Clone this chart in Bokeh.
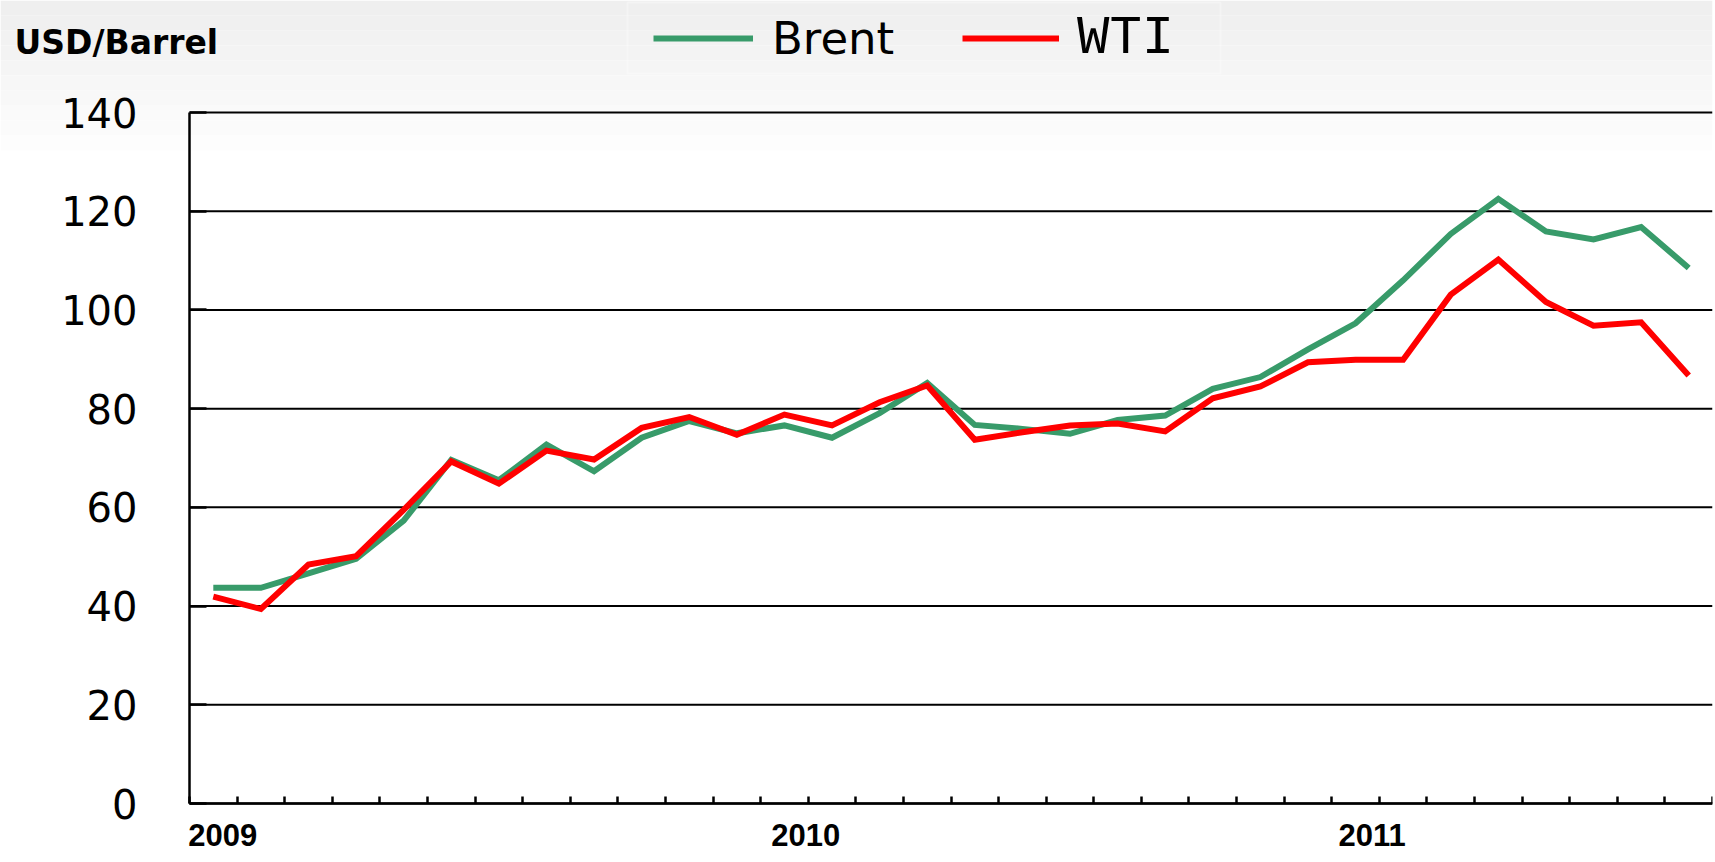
from bokeh.plotting import figure
from bokeh.models import (Range1d, FixedTicker, Legend, LegendItem, Label,
                          ColumnDataSource, LinearAxis, BoxAnnotation)
from bokeh.embed import file_html
from bokeh.resources import INLINE

months = ["2009-01", "2009-02", "2009-03", "2009-04", "2009-05", "2009-06",
          "2009-07", "2009-08", "2009-09", "2009-10", "2009-11", "2009-12",
          "2010-01", "2010-02", "2010-03", "2010-04", "2010-05", "2010-06",
          "2010-07", "2010-08", "2010-09", "2010-10", "2010-11", "2010-12",
          "2011-01", "2011-02", "2011-03", "2011-04", "2011-05", "2011-06",
          "2011-07", "2011-08"]
brent = [43.7, 43.7, 46.6, 49.6, 57.3, 69.6, 65.5, 72.7, 67.3, 74.1, 77.5, 75.0,
         76.6, 74.1, 79.1, 85.2, 76.7, 75.9, 74.9, 77.7, 78.6, 84.0, 86.4, 92.0,
         97.3, 106.0, 115.4, 122.5, 115.9, 114.3, 116.8, 108.5]
wti = [41.9, 39.4, 48.4, 50.1, 59.5, 69.3, 64.8, 71.5, 69.7, 76.1, 78.3, 74.7,
       78.8, 76.6, 81.3, 84.7, 73.7, 75.2, 76.6, 77.0, 75.4, 82.1, 84.5, 89.4,
       89.9, 89.9, 103.1, 110.2, 101.6, 96.8, 97.5, 86.7]
y_ticks = [0, 20, 40, 60, 80, 100, 120, 140]
year_labels = ["2009", "2010", "2011"]
year_pos = [0.2, 12.45, 24.35]
series_names = ["Brent", "WTI"]
colors = ["#389b6a", "#ff0000"]
y_label = "USD/Barrel"

# ---- layout (pixels in the page) ----
W, H = 1713, 860
PLOT_L, PLOT_R = 189, 1712      # x pixels of the category axis extent
PLOT_T, PLOT_B = 112, 803       # y pixels of 140 and 0

n = len(months)
x = list(range(n))
y_max = y_ticks[-1]
xs = (PLOT_R - PLOT_L) / n                 # px per category
ys = (PLOT_B - PLOT_T) / y_max             # px per unit
x_start = -0.5 - PLOT_L / xs
x_end = (n - 0.5) + (W - 1 - PLOT_R) / xs
y_end = y_max + PLOT_T / ys
y_start = -(H - PLOT_B) / ys


def px_x(px):
    return x_start + px / xs


def px_y(py):
    return y_end - py / ys


src = ColumnDataSource(dict(x=x, month=months, brent=brent, wti=wti))

p = figure(width=W, height=H,
           x_range=Range1d(x_start, x_end), y_range=Range1d(y_start, y_end),
           x_axis_location=None, y_axis_location=None,
           output_backend="svg", toolbar_location=None,
           min_border_left=0, min_border_right=1, min_border_top=0, min_border_bottom=0)
p.background_fill_color = "white"
p.border_fill_color = "white"
p.outline_line_color = None
p.grid.visible = False

# light grey slide gradient at the top
bands = 10
band_h = 15
for k in range(bands):
    g = int(239 + (255 - 239) * k / bands)
    p.add_layout(BoxAnnotation(top=px_y(k * band_h), bottom=px_y((k + 1) * band_h),
                               fill_color="#%02x%02x%02x" % (g, g, g), fill_alpha=1,
                               line_color=None, level="underlay"))

# horizontal gridlines over the category extent
p.segment(x0=[-0.5] * len(y_ticks), x1=[n - 0.5] * len(y_ticks), y0=y_ticks, y1=y_ticks,
          line_color="black", line_width=2)

ya = LinearAxis(fixed_location=-0.5)
ya.ticker = FixedTicker(ticks=y_ticks)
ya.bounds = (0, y_max)
ya.axis_line_color = "black"
ya.axis_line_width = 2.5
ya.major_tick_in = 17
ya.major_tick_out = 0
ya.major_tick_line_width = 2.5
ya.major_tick_line_color = "black"
ya.minor_tick_line_color = None
ya.major_label_text_font = "DejaVu Sans"
ya.major_label_text_font_size = "40px"
ya.major_label_text_color = "black"
ya.major_label_standoff = 52
p.add_layout(ya, "left")

xa = LinearAxis(fixed_location=0)
xa.ticker = FixedTicker(ticks=year_pos, minor_ticks=[i - 0.5 for i in range(n + 1)])
xa.bounds = (-0.5, n - 0.5)
xa.axis_line_color = "black"
xa.axis_line_width = 2.5
xa.major_tick_line_color = None
xa.major_tick_in = 0
xa.major_tick_out = 0
xa.minor_tick_in = 7
xa.minor_tick_out = 0
xa.minor_tick_line_width = 2.5
xa.minor_tick_line_color = "black"
xa.major_label_overrides = {pos: lab for pos, lab in zip(year_pos, year_labels)}
xa.major_label_text_font = "Liberation Sans"
xa.major_label_text_font_style = "bold"
xa.major_label_text_font_size = "31px"
xa.major_label_text_color = "black"
xa.major_label_standoff = 20
p.add_layout(xa, "below")

r_b = p.line("x", "brent", source=src, line_color=colors[0], line_width=6, line_join="miter")
r_w = p.line("x", "wti", source=src, line_color=colors[1], line_width=6, line_join="miter")

# legend frame (thin white box)
p.add_layout(BoxAnnotation(left=px_x(627), right=px_x(1220), top=px_y(2), bottom=px_y(73),
                           fill_alpha=0, line_color="white", line_width=2))

LEG_CY = 38   # legend row centre (px from top)
LEG_H = 64
common = dict(padding=0, margin=0, spacing=0, border_line_color=None,
              background_fill_alpha=0, glyph_height=LEG_H, label_height=LEG_H,
              label_text_color="black")
leg1 = Legend(items=[LegendItem(label=series_names[0], renderers=[r_b])],
              location=(653, H - (LEG_CY + LEG_H / 2)), glyph_width=100, label_standoff=19,
              label_text_font="DejaVu Sans", label_text_font_size="45px", **common)
leg2 = Legend(items=[LegendItem(label=series_names[1], renderers=[r_w])],
              location=(962, H - (LEG_CY + LEG_H / 2)), glyph_width=97, label_standoff=18,
              label_text_font="Liberation Mono", label_text_font_size="54px", **common)
p.add_layout(leg1)
p.add_layout(leg2)

title = Label(x=14, y=H - 42, x_units="screen", y_units="screen", text=y_label,
              text_font="DejaVu Sans", text_font_style="bold", text_font_size="33px",
              text_baseline="alphabetic", text_color="black")
p.add_layout(title)

open("out.html", "w").write(file_html(p, INLINE))
